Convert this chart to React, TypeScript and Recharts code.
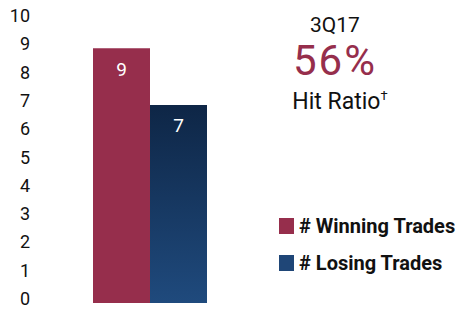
import { BarChart, Bar, XAxis, YAxis, LabelList } from "recharts";

const categories = ["3Q17"];
const winningTrades = [9];
const losingTrades = [7];
const yTicks = [0, 1, 2, 3, 4, 5, 6, 7, 8, 9, 10];
const hitRatio = "56%";
const periodLabel = "3Q17";
const seriesNames = ["# Winning Trades", "# Losing Trades"];

const data = categories.map((name, i) => ({
  name,
  win: winningTrades[i],
  lose: losingTrades[i],
}));

const FONT = "Roboto, 'DejaVu Sans', sans-serif";
const RED = "#962e4c";
const BLUE = "#1f4677";

const YTick = ({ y, payload }: any) => (
  <text x={30} y={y} dy={2} textAnchor="end" fontSize={18} fill="#111" fontFamily={FONT}>
    {payload.value}
  </text>
);

export default function App() {
  return (
    <div style={{ position: "absolute", left: 0, top: 0, width: 464, height: 311, background: "#fff" }}>
      <BarChart
        width={464}
        height={311}
        data={data}
        margin={{ top: 20, right: 204, bottom: 8, left: 0 }}
        barGap={0}
      >
        <defs>
          <linearGradient id="loseGrad" x1="0" y1="0" x2="0" y2="1">
            <stop offset="0%" stopColor="#0e2646" />
            <stop offset="100%" stopColor="#1f4a7d" />
          </linearGradient>
        </defs>
        <XAxis dataKey="name" hide />
        <YAxis
          domain={[0, 10]}
          ticks={yTicks}
          interval={0}
          axisLine={false}
          tickLine={false}
          width={40}
          tick={<YTick />}
        />
        <Bar dataKey="win" fill={RED} barSize={57} isAnimationActive={false}>
          <LabelList dataKey="win" position="insideTop" offset={14} fill="#fff" fontSize={19} fontFamily={FONT} />
        </Bar>
        <Bar dataKey="lose" fill="url(#loseGrad)" barSize={57} isAnimationActive={false}>
          <LabelList dataKey="lose" position="insideTop" offset={14} fill="#fff" fontSize={19} fontFamily={FONT} />
        </Bar>
      </BarChart>

      <div style={{ position: "absolute", left: 255, top: 0, width: 160, textAlign: "center", fontFamily: FONT, color: "#111" }}>
        <div style={{ position: "absolute", top: 12, width: 160, fontSize: 21, lineHeight: "26px" }}>{periodLabel}</div>
        <div style={{ position: "absolute", top: 37, width: 160, fontSize: 42, lineHeight: "48px", color: RED, letterSpacing: 2 }}>
          {hitRatio}
        </div>
        <div style={{ position: "absolute", top: 82, left: -3, width: 176, fontSize: 23, lineHeight: "28px" }}>
          Hit Ratio<sup style={{ fontSize: 13 }}>†</sup>
        </div>
      </div>

      <div style={{ position: "absolute", left: 279, top: 214, fontFamily: FONT, fontWeight: 700, fontSize: 20, color: "#111" }}>
        {seriesNames.map((s, i) => (
          <div key={s} style={{ display: "flex", alignItems: "center", height: 24, marginBottom: 13 }}>
            <span style={{ width: 15, height: 16, background: i === 0 ? RED : BLUE, marginRight: 5 }} />
            {s}
          </div>
        ))}
      </div>
    </div>
  );
}
